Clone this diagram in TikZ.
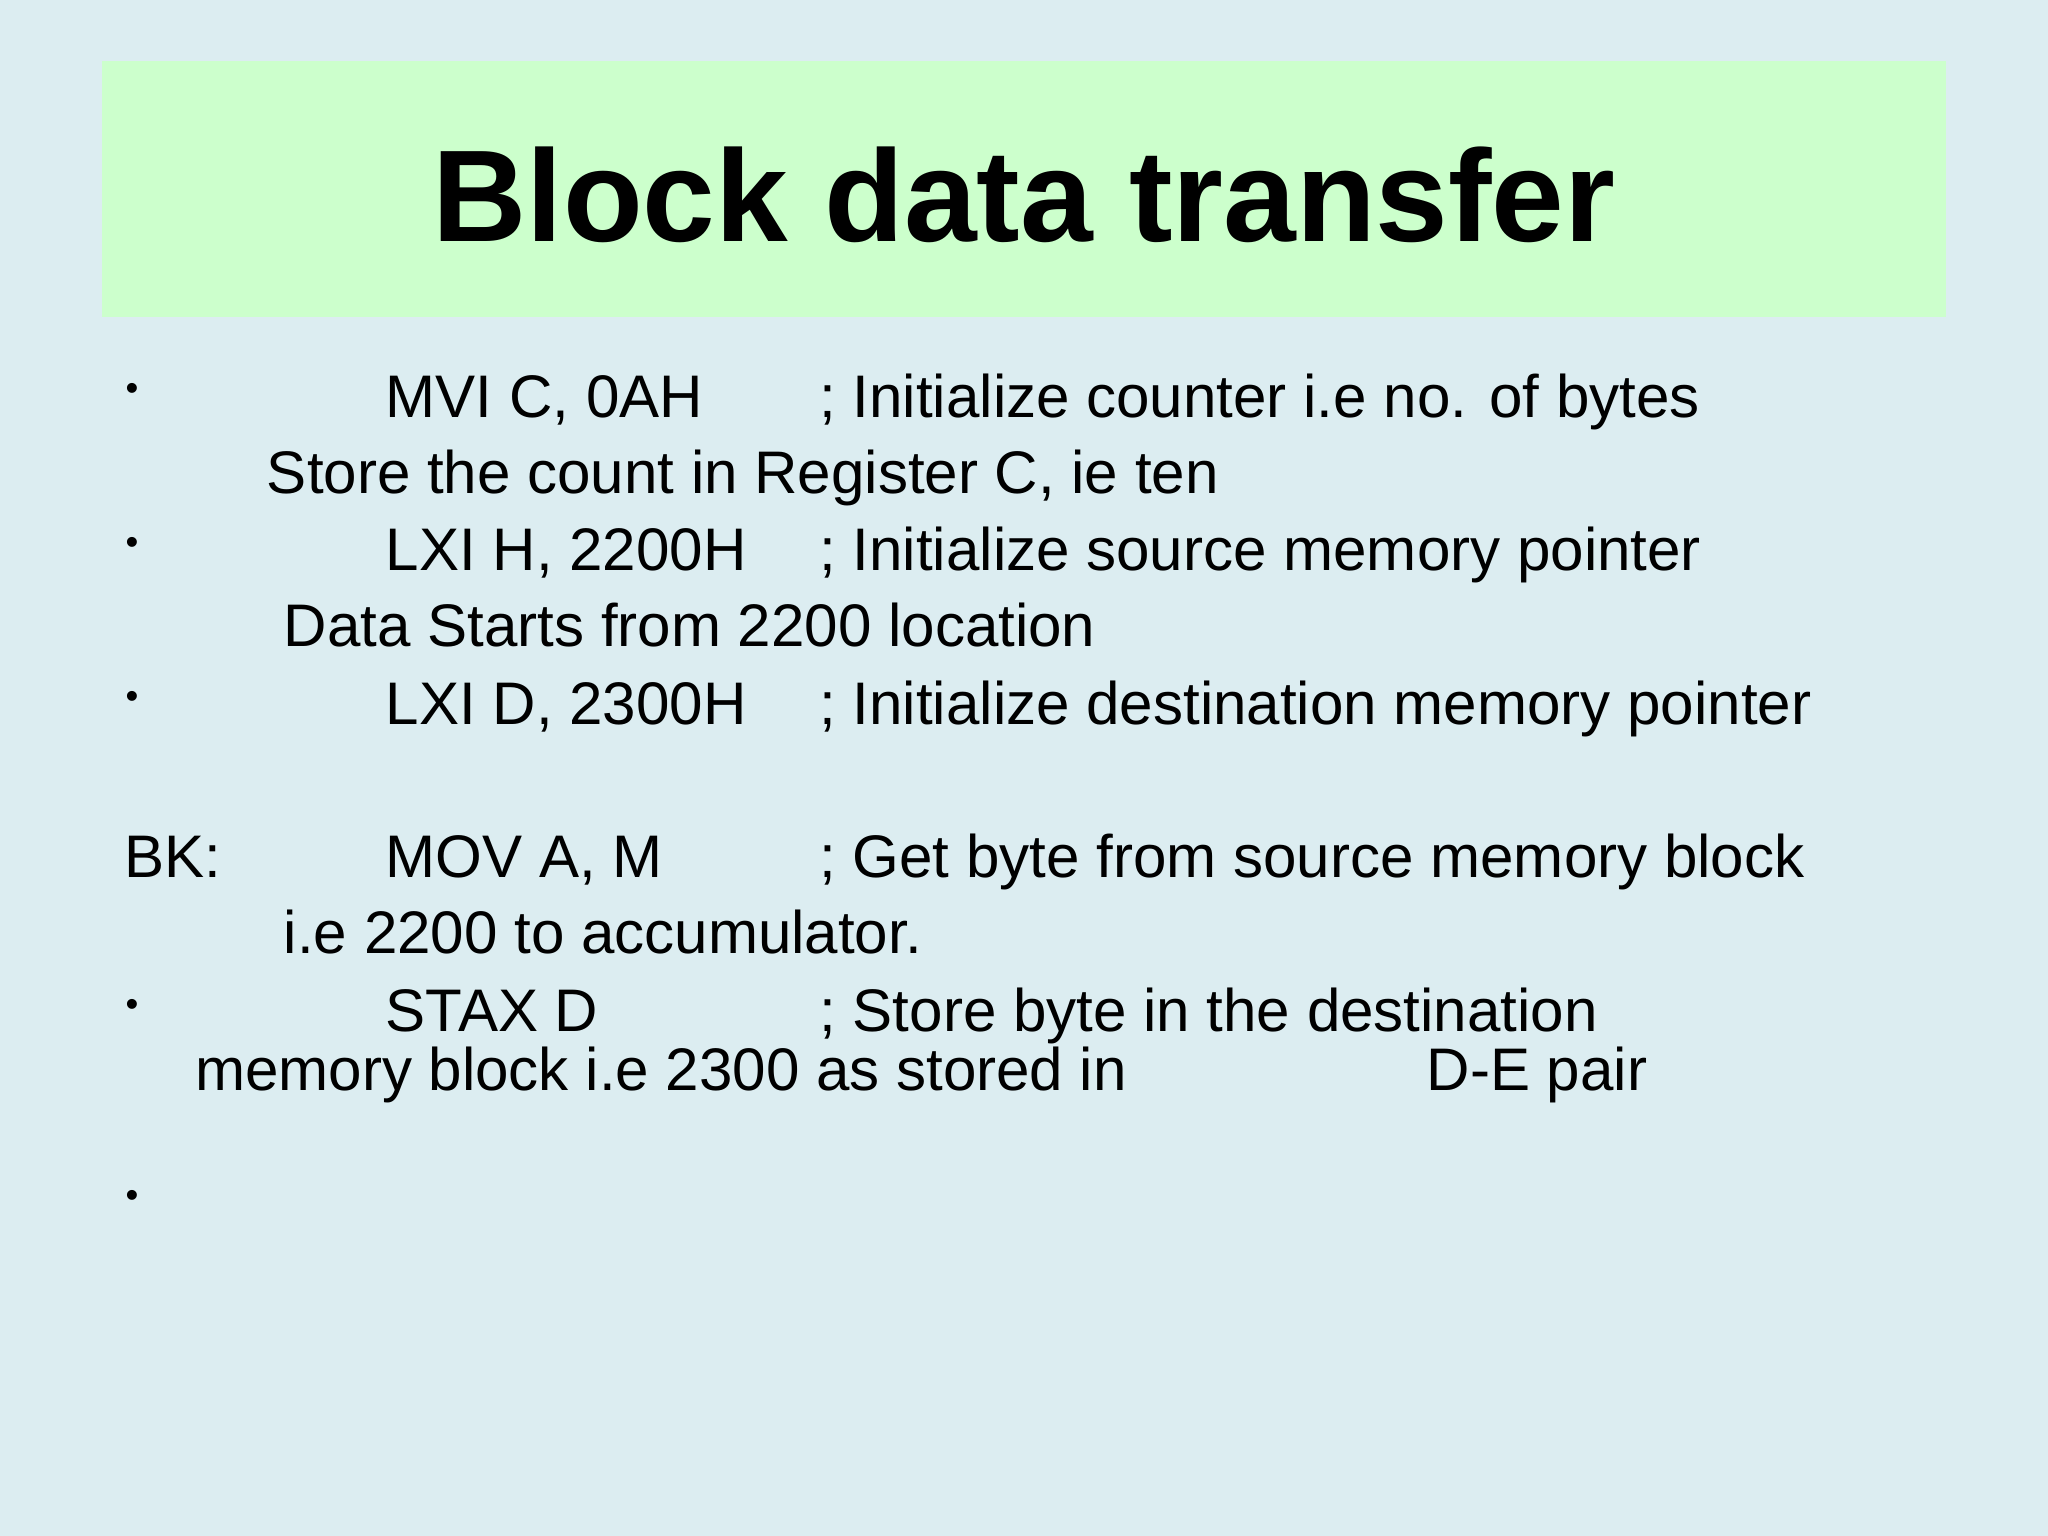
\documentclass[tikz,border=0pt]{standalone}
\usepackage{fontspec}
\setmainfont{Liberation Sans}
\definecolor{bgc}{HTML}{DCEDF1}
\definecolor{titc}{HTML}{CCFFCC}
\begin{document}
\begin{tikzpicture}[x=0.5pt,y=-0.5pt,
  txt/.style={anchor=base west,inner sep=0pt,font=\fontsize{23}{27}\selectfont},
  bul/.style={inner sep=0pt,font=\fontsize{14}{16}\selectfont}]
\fill[bgc] (0,0) rectangle (1568,1176);
\useasboundingbox (0,0) rectangle (1568,1176);
\fill[titc] (78,47) rectangle (1490,243);
\node[anchor=base,inner sep=0pt,font=\fontsize{50}{56}\selectfont\bfseries] (title) at (784,185) {Block data transfer};
\node[bul] (b1) at (101,300) {•};
\node[bul] (b2) at (101,418) {•};
\node[bul] (b3) at (101,536) {•};
\node[bul] (b4) at (101,772) {•};
\node[bul] (b5) at (101,918) {•};
\node[txt] (i1) at (295,320) {MVI C, 0AH};
\node[txt] (c1) at (627,320) {; Initialize counter i.e no. of bytes};
\node[txt] (s1) at (204,378) {Store the count in Register C, ie ten};
\node[txt] (i2) at (295,437) {LXI H, 2200H};
\node[txt] (c2) at (627,437) {; Initialize source memory pointer};
\node[txt] (s2) at (217,495) {Data Starts from 2200 location};
\node[txt] (i3) at (295,555) {LXI D, 2300H};
\node[txt] (c3) at (627,555) {; Initialize destination memory pointer};
\node[txt] (bk) at (95,672) {BK:};
\node[txt] (i4) at (295,672) {MOV A, M};
\node[txt] (c4) at (627,672) {; Get byte from source memory block};
\node[txt] (s4) at (217,730) {i.e 2200 to accumulator.};
\node[txt] (i5) at (295,790) {STAX D};
\node[txt] (c5) at (627,790) {; Store byte in the destination};
\node[txt] (s5) at (149,835) {memory block i.e 2300 as stored in};
\node[txt] (s6) at (1092,835) {D-E pair};
\end{tikzpicture}
\end{document}
